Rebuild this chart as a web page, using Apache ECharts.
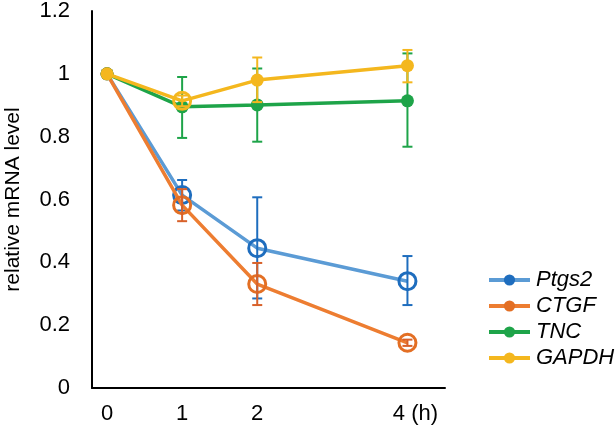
<!DOCTYPE html>
<html>
<head>
<meta charset="utf-8">
<script src="https://cdn.jsdelivr.net/npm/echarts@6/dist/echarts.min.js"></script>
<style>html,body{margin:0;padding:0;background:#fff}#c{width:615px;height:431px}</style>
</head>
<body>
<div id="c"></div>
<script>
// ---- data ----
var hours = [0, 1, 2, 4];
var xTickLabels = ['0', '1', '2', '4 (h)'];
var seriesNames = ['Ptgs2', 'CTGF', 'TNC', 'GAPDH'];
var ptgs2 = [1, 0.614, 0.445, 0.340];
var ptgs2Low = [1, 0.565, 0.285, 0.264];
var ptgs2High = [1, 0.662, 0.607, 0.420];
var ctgf = [1, 0.582, 0.331, 0.144];
var ctgfLow = [1, 0.531, 0.264, 0.134];
var ctgfHigh = [1, 0.633, 0.398, 0.154];
var tnc = [1, 0.895, 0.901, 0.914];
var tncLow = [1, 0.796, 0.784, 0.768];
var tncHigh = [1, 0.990, 1.017, 1.065];
var gapdh = [1, 0.914, 0.980, 1.026];
var gapdhLow = [1, 0.897, 0.910, 0.973];
var gapdhHigh = [1, 0.931, 1.052, 1.076];
var yTicks = [0, 0.2, 0.4, 0.6, 0.8, 1, 1.2];

// ---- styles ----
var FONT = 'Liberation Sans, Arial, sans-serif';
var styles = {
  Ptgs2: {line: '#5B9BD5', mark: '#1E6DBE', err: '#1E6DBE', hollow: [1, 2, 3]},
  CTGF:  {line: '#ED7D31', mark: '#E36F24', err: '#D8612A', hollow: [1, 2, 3]},
  TNC:   {line: '#1EA449', mark: '#1EA449', err: '#1EA449', hollow: []},
  GAPDH: {line: '#F4B71E', mark: '#F4B71E', err: '#F4B71E', hollow: [1]}
};
var vals = {Ptgs2: [ptgs2, ptgs2Low, ptgs2High], CTGF: [ctgf, ctgfLow, ctgfHigh],
            TNC: [tnc, tncLow, tncHigh], GAPDH: [gapdh, gapdhLow, gapdhHigh]};

var series = [];
seriesNames.forEach(function (name, si) {
  var st = styles[name], v = vals[name];
  var data = hours.map(function (h, i) {
    var item = {value: [h, v[0][i]]};
    if (st.hollow.indexOf(i) >= 0) {
      item.symbolSize = 17;
      item.itemStyle = {color: 'rgba(0,0,0,0)', borderColor: st.mark, borderWidth: 3};
    }
    return item;
  });
  series.push({
    name: name, type: 'line', data: data,
    symbol: 'circle', symbolSize: 13, z: 2 + si * 2,
    lineStyle: {color: st.line, width: 3.5},
    itemStyle: {color: st.mark, borderWidth: 0},
    emphasis: {disabled: true}, animation: false
  });
  var errData = [];
  hours.forEach(function (h, i) {
    if (i > 0) errData.push([h, v[1][i], v[2][i]]);
  });
  series.push({
    type: 'custom', name: name + '_err', data: errData, z: 3 + si * 2,
    encode: {x: 0, y: [1, 2]},
    renderItem: function (params, api) {
      var x = api.value(0);
      var lo = api.coord([x, api.value(1)]);
      var hi = api.coord([x, api.value(2)]);
      var w = 5;
      var s = {stroke: st.err, lineWidth: 2};
      return {type: 'group', children: [
        {type: 'line', shape: {x1: lo[0], y1: lo[1], x2: hi[0], y2: hi[1]}, style: s},
        {type: 'line', shape: {x1: lo[0] - w, y1: lo[1], x2: lo[0] + w, y2: lo[1]}, style: s},
        {type: 'line', shape: {x1: hi[0] - w, y1: hi[1], x2: hi[0] + w, y2: hi[1]}, style: s}
      ]};
    },
    animation: false, silent: true
  });
});

var chart = echarts.init(document.getElementById('c'), null, {renderer: 'canvas'});
chart.setOption({
  backgroundColor: '#fff',
  animation: false,
  grid: {left: 92, right: 170, top: 11, bottom: 43, containLabel: false, outerBoundsMode: 'none'},
  xAxis: {
    type: 'value', min: -0.2, max: 4.5,
    splitLine: {show: false},
    axisTick: {show: false},
    axisLine: {onZero: false, lineStyle: {color: '#000', width: 2}},
    axisLabel: {
      customValues: hours, margin: 15, color: '#000', fontFamily: FONT, fontSize: 22,
      formatter: function (val) {
        var i = hours.indexOf(val);
        if (i < 0) return '';
        return i === hours.length - 1 ? '{last|' + xTickLabels[i] + '}' : xTickLabels[i];
      },
      rich: {last: {color: '#000', fontFamily: FONT, fontSize: 22, padding: [0, 0, 0, 16]}}
    }
  },
  yAxis: {
    type: 'value', min: 0, max: 1.2, interval: 0.2,
    name: 'relative mRNA level', nameLocation: 'middle', nameGap: 68,
    nameTextStyle: {color: '#000', fontFamily: FONT, fontSize: 21},
    splitLine: {show: false},
    axisTick: {show: false},
    axisLine: {show: true, onZero: false, lineStyle: {color: '#000', width: 2}},
    axisLabel: {margin: 22, color: '#000', fontFamily: FONT, fontSize: 22,
      formatter: function (val) { return String(Math.round(val * 10) / 10); }}
  },
  legend: {
    data: seriesNames, orient: 'vertical', left: 482, top: 264,
    itemWidth: 41, itemHeight: 14, itemGap: 4,
    lineStyle: {width: 4},
    textStyle: {color: '#000', fontFamily: FONT, fontSize: 22, fontStyle: 'italic', lineHeight: 22, padding: [0, 0, 0, 1]},
    selectedMode: false
  },
  series: series
});
</script>
</body>
</html>
